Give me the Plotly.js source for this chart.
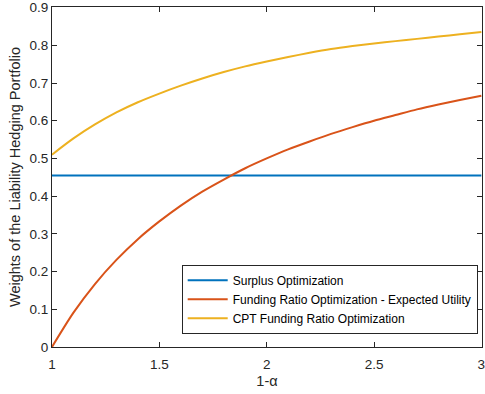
<!DOCTYPE html>
<html>
<head>
<meta charset="utf-8">
<script src="https://cdn.plot.ly/plotly-3.0.1.min.js"></script>
<style>html,body{margin:0;padding:0;background:#fff}#chart{width:485px;height:394px}</style>
</head>
<body>
<div id="chart"></div>
<script>
// 1 - alpha
var alphaX = [1.0, 1.1, 1.2, 1.3, 1.4, 1.5, 1.6, 1.7, 1.8, 1.9, 2.0, 2.1, 2.2, 2.3, 2.4, 2.5, 2.6, 2.7, 2.8, 2.9, 3.0];
// Surplus Optimization
var surplusY = [0.455, 0.455, 0.455, 0.455, 0.455, 0.455, 0.455, 0.455, 0.455, 0.455, 0.455, 0.455, 0.455, 0.455, 0.455, 0.455, 0.455, 0.455, 0.455, 0.455, 0.455];
// Funding Ratio Optimization - Expected Utility
var fundingY = [0.000, 0.091, 0.167, 0.231, 0.286, 0.333, 0.375, 0.412, 0.444, 0.474, 0.500, 0.524, 0.545, 0.565, 0.583, 0.600, 0.615, 0.630, 0.643, 0.655, 0.666];
// CPT Funding Ratio Optimization
var cptY = [0.510, 0.553, 0.590, 0.622, 0.649, 0.672, 0.693, 0.712, 0.729, 0.744, 0.757, 0.769, 0.780, 0.790, 0.798, 0.805, 0.811, 0.817, 0.823, 0.829, 0.835];

var seriesNames = ['Surplus Optimization', 'Funding Ratio Optimization - Expected Utility', 'CPT Funding Ratio Optimization'];
var xTicks = [1, 1.5, 2, 2.5, 3];
var xTickText = ['1', '1.5', '2', '2.5', '3'];
var yTicks = [0, 0.1, 0.2, 0.3, 0.4, 0.5, 0.6, 0.7, 0.8, 0.9];
var yTickText = ['0', '0.1', '0.2', '0.3', '0.4', '0.5', '0.6', '0.7', '0.8', '0.9'];

var colors = ['#0072BD', '#D95319', '#EDB120'];
var ys = [surplusY, fundingY, cptY];
var traces = ys.map(function (y, i) {
  return {
    x: alphaX, y: y, name: seriesNames[i], type: 'scatter', mode: 'lines',
    line: {color: colors[i], width: 2, shape: 'spline', smoothing: 0.8}
  };
});

var axisCommon = {
  showgrid: false, zeroline: false, showline: true, mirror: 'ticks',
  linecolor: '#262626', linewidth: 1, ticks: 'inside', ticklen: 5, tickwidth: 1,
  ticklabeloverflow: 'allow',
  tickcolor: '#262626', tickfont: {family: 'Liberation Sans, Arial, sans-serif', size: 13.5, color: '#262626'}
};

var layout = {
  width: 485, height: 394,
  margin: {l: 52, r: 3, t: 7, b: 47},
  paper_bgcolor: '#fff', plot_bgcolor: '#fff',
  font: {family: 'Liberation Sans, Arial, sans-serif', color: '#262626'},
  showlegend: true,
  xaxis: Object.assign({}, axisCommon, {
    range: [1, 3.003], tickvals: xTicks, ticktext: xTickText, ticklabelstandoff: 5,
    title: {text: '1-α', font: {size: 14.5, color: '#262626'}, standoff: 4}
  }),
  yaxis: Object.assign({}, axisCommon, {
    range: [0, 0.9015], tickvals: yTicks, ticktext: yTickText,
    title: {text: 'Weights of the Liability Hedging Portfolio', font: {size: 14.5, color: '#262626'}, standoff: 5}
  }),
  legend: {
    x: 0.99, y: 0.039, xanchor: 'right', yanchor: 'bottom',
    bgcolor: '#fff', bordercolor: '#262626', borderwidth: 1,
    font: {size: 12, color: '#000'}, itemwidth: 40, tracegroupgap: 0
  }
};

Plotly.newPlot('chart', traces, layout, {staticPlot: true, displayModeBar: false});
</script>
</body>
</html>
